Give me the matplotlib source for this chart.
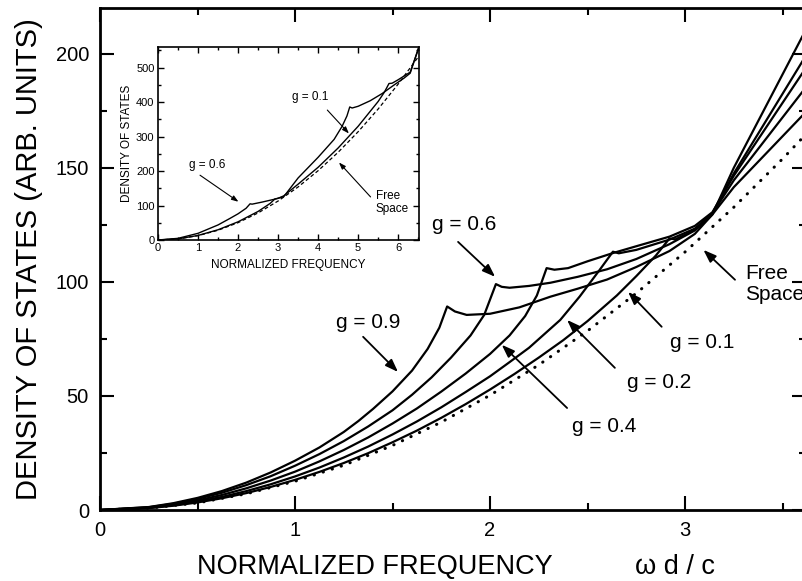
import matplotlib
matplotlib.use("Agg")
import matplotlib.pyplot as plt
from matplotlib.ticker import MultipleLocator

plt.rcParams["font.family"] = ["Liberation Sans", "DejaVu Sans"]

# %% Data

# main panel: free space (dotted)
free_x = [0, 0.25, 0.5, 0.75, 1.0, 1.25, 1.5, 1.75, 2.0, 2.25, 2.5, 2.75, 3.0, 3.25, 3.5, 3.62]
free_y = [0, 0.8, 3.1, 7.1, 12.6, 19.6, 28.3, 38.5, 50.3, 63.6, 78.5, 95.0, 113.1, 132.7, 153.9, 164.7]

# main panel: layered media, one list per g
g09_x = [0, 0.25, 0.375, 0.5, 0.625, 0.75, 0.875, 1.0, 1.125, 1.25, 1.325, 1.4, 1.5, 1.6, 1.68, 1.74, 1.78,
         1.82, 1.88, 2.0, 2.15, 2.31, 2.45, 2.6, 2.75, 2.92, 3.05, 3.14, 3.25, 3.62]
g09_y = [0, 1.3, 2.97, 5.3, 8.3, 12.0, 16.45, 21.6, 27.4, 34.2, 39.0, 44.3, 52.0, 61.1, 70.6, 79.9, 89.2,
         87.0, 85.5, 86.0, 88.8, 93.5, 97.0, 101.0, 106.5, 113.5, 121.0, 129.5, 150.0, 210.6]

g06_x = [0, 0.25, 0.375, 0.5, 0.625, 0.75, 0.875, 1.0, 1.125, 1.25, 1.375, 1.5, 1.6, 1.7, 1.8, 1.9, 1.97, 2.03,
         2.06, 2.1, 2.2, 2.31, 2.45, 2.6, 2.75, 2.92, 3.05, 3.14, 3.25, 3.62]
g06_y = [0, 1.21, 2.72, 4.84, 7.56, 10.9, 14.8, 19.4, 24.5, 30.2, 36.6, 43.7, 50.5, 58.1, 66.8, 76.5, 85.5, 99.0,
         97.8, 97.4, 98.2, 99.6, 102.2, 105.5, 110.0, 116.5, 122.5, 130.0, 147.5, 199.2]

g04_x = [0, 0.25, 0.375, 0.5, 0.625, 0.75, 0.875, 1.0, 1.125, 1.25, 1.375, 1.5, 1.625, 1.75, 1.875, 2.0,
         2.1, 2.18, 2.24, 2.29, 2.33, 2.4, 2.5, 2.63, 2.75, 2.92, 3.05, 3.14, 3.25, 3.62]
g04_y = [0, 1.05, 2.37, 4.2, 6.58, 9.5, 12.9, 16.8, 21.3, 26.3, 31.8, 37.9, 44.5, 51.9, 59.8, 68.4,
         76.5, 85.0, 94.0, 106.0, 105.3, 106.0, 109.0, 112.6, 115.6, 119.8, 124.5, 130.5, 146.5, 193.8]

g02_x = [0, 0.25, 0.375, 0.5, 0.625, 0.75, 0.875, 1.0, 1.125, 1.25, 1.375, 1.5, 1.625, 1.75, 1.875, 2.0,
         2.1, 2.2, 2.36, 2.46, 2.56, 2.63, 2.66, 2.75, 2.92, 3.05, 3.14, 3.25, 3.62]
g02_y = [0, 0.92, 2.07, 3.67, 5.74, 8.27, 11.26, 14.7, 18.6, 23.0, 27.8, 33.1, 38.8, 45.0, 51.7, 58.6,
         64.8, 71.1, 83.3, 93.6, 105.0, 113.2, 112.5, 114.0, 118.5, 123.3, 130.0, 144.5, 185.3]

g01_x = [0, 0.25, 0.375, 0.5, 0.625, 0.75, 0.875, 1.0, 1.125, 1.25, 1.375, 1.5, 1.625, 1.75, 1.875, 2.0,
         2.125, 2.25, 2.375, 2.5, 2.65, 2.75, 2.85, 2.92, 2.95, 3.02, 3.08, 3.14, 3.25, 3.62]
g01_y = [0, 0.82, 1.86, 3.3, 5.15, 7.4, 10.1, 13.2, 16.7, 20.6, 24.9, 29.7, 34.8, 40.4, 46.4, 52.8,
         59.6, 66.8, 74.4, 82.8, 94.0, 102.5, 111.5, 119.0, 118.6, 121.5, 124.5, 129.5, 141.5, 174.5]

# inset: free space (dashed) and two layered curves
in_free_x = [0, 0.5, 1, 1.5, 2, 2.5, 3, 3.5, 4, 4.5, 5, 5.5, 6, 6.5]
in_free_y = [0, 3.1, 12.6, 28.3, 50.3, 78.5, 113.1, 153.9, 201.1, 254.5, 314.2, 380.1, 452.4, 530.9]

in_g06_x = [0, 0.5, 1.0, 1.5, 1.8, 2.0, 2.2, 2.3, 2.35, 2.6, 2.9, 3.14,
            3.5, 4.0, 4.4, 4.6, 4.72, 4.79, 4.85, 5.0, 5.3, 5.6, 5.9, 6.15, 6.3, 6.5]
in_g06_y = [0, 4.8, 19.4, 43.7, 62.8, 76.0, 92.0, 105.0, 104.0, 110.0, 118.0, 125.5,
            180.0, 240.0, 292.0, 330.0, 360.0, 386.0, 383.0, 388.0, 404.0, 425.0, 450.0, 470.0, 484.0, 555.0]

in_g01_x = [0, 0.5, 1.0, 1.5, 2.0, 2.5, 2.8, 2.92, 3.0, 3.14, 3.5, 4.0, 4.5, 5.0, 5.5,
            5.65, 5.72, 5.77, 5.85, 6.0, 6.15, 6.3, 6.5]
in_g01_y = [0, 3.3, 13.2, 29.7, 52.8, 82.8, 106.0, 119.0, 121.0, 128.0, 162.0, 211.0, 267.0, 330.0, 402.0,
            428.0, 443.0, 454.0, 455.0, 465.0, 476.0, 487.0, 552.0]

main_curves = [(g09_x, g09_y), (g06_x, g06_y), (g04_x, g04_y), (g02_x, g02_y), (g01_x, g01_y)]
inset_curves = [(in_g06_x, in_g06_y), (in_g01_x, in_g01_y)]

# %% Main panel

fig = plt.figure(figsize=(8.03, 5.81), dpi=100)
ax = fig.add_axes([100 / 803, 71 / 581, 706 / 803, 502 / 581])

for cx, cy in main_curves:
    ax.plot(cx, cy, color="black", lw=1.6, solid_joinstyle="round")
ax.plot(free_x, free_y, color="black", lw=2.2, linestyle=(0, (0.1, 3.0)),
        dash_capstyle="round")

ax.set_xlim(0, 3.62)
ax.set_ylim(0, 220)
ax.set_xticks([0, 1, 2, 3])
ax.set_yticks([0, 50, 100, 150, 200])
ax.xaxis.set_minor_locator(MultipleLocator(0.5))
ax.yaxis.set_minor_locator(MultipleLocator(25))
ax.tick_params(which="both", direction="in", top=True, right=True, width=1.5,
               labelsize=14.5)
ax.tick_params(which="major", length=10)
ax.tick_params(which="minor", length=5)
ax.tick_params(axis="x", pad=8)
ax.tick_params(axis="y", pad=8)
for sp in ax.spines.values():
    sp.set_linewidth(2)

ax.set_ylabel("DENSITY OF STATES (ARB. UNITS)", fontsize=21)
ax.yaxis.set_label_coords(-0.081, 0.5)
fig.text(375 / 803, 1 - 567 / 581, "NORMALIZED FREQUENCY", fontsize=19.5,
         ha="center", va="center")
fig.text(675 / 803, 1 - 567 / 581, "ω d / c", fontsize=19.5,
         ha="center", va="center")

arrow_main = dict(arrowstyle="-|>,head_length=0.55,head_width=0.2", color="black",
                  lw=1.3, mutation_scale=14, shrinkA=0, shrinkB=0)

labels_main = [
    ("g = 0.9", (1.374, 82), (1.349, 75.9), (1.528, 60.5)),
    ("g = 0.6", (1.867, 125), (1.836, 117.5), (2.026, 102.2)),
    ("g = 0.4", (2.585, 36.4), (2.395, 44.7), (2.06, 72.4)),
    ("g = 0.2", (2.867, 55.7), (2.64, 62.3), (2.395, 83.3)),
    ("g = 0.1", (3.087, 73.2), (2.88, 80.3), (2.708, 95.6)),
]
for txt, pos, tail, head in labels_main:
    ax.annotate("", xy=head, xytext=tail, arrowprops=arrow_main)
    ax.text(pos[0], pos[1], txt, fontsize=15, ha="center", va="center")

ax.annotate("", xy=(3.094, 114), xytext=(3.256, 100.9), arrowprops=arrow_main)
ax.text(3.308, 98.9, "Free\nSpace", fontsize=15, ha="left", va="center",
        linespacing=1.15)

# %% Inset

ins = fig.add_axes([158 / 803, 1 - 240 / 581, 261 / 803, 193 / 581])
for cx, cy in inset_curves:
    ins.plot(cx, cy, color="black", lw=1.0)
ins.plot(in_free_x, in_free_y, color="black", lw=0.9, linestyle=(0, (3, 2)))

ins.set_xlim(0, 6.52)
ins.set_ylim(0, 560)
ins.set_xticks(range(0, 7))
ins.set_yticks(range(0, 501, 100))
ins.xaxis.set_minor_locator(MultipleLocator(0.5))
ins.yaxis.set_minor_locator(MultipleLocator(50))
ins.tick_params(which="both", direction="in", top=True, right=True, width=1.0,
                labelsize=8, pad=2.5)
ins.tick_params(which="major", length=4)
ins.tick_params(which="minor", length=2)
for sp in ins.spines.values():
    sp.set_linewidth(1.2)
ins.set_xlabel("NORMALIZED FREQUENCY", fontsize=8.5, labelpad=4)
ins.set_ylabel("DENSITY OF STATES", fontsize=8.5, labelpad=2)

arrow_in = dict(arrowstyle="-|>,head_length=0.5,head_width=0.18", color="black",
                lw=0.8, mutation_scale=8, shrinkA=0, shrinkB=0)
labels_in = [
    ("g = 0.6", (1.23, 217), (1.05, 188), (2.01, 111)),
    ("g = 0.1", (3.81, 415), (4.23, 377), (4.77, 309)),
]
for txt, pos, tail, head in labels_in:
    ins.annotate("", xy=head, xytext=tail, arrowprops=arrow_in)
    ins.text(pos[0], pos[1], txt, fontsize=8.5, ha="center", va="center")
ins.annotate("", xy=(4.52, 225), xytext=(5.31, 125), arrowprops=arrow_in)
ins.text(5.44, 110, "Free\nSpace", fontsize=8.5, ha="left", va="center",
         linespacing=1.1)

fig.savefig("out.png", dpi=100)
